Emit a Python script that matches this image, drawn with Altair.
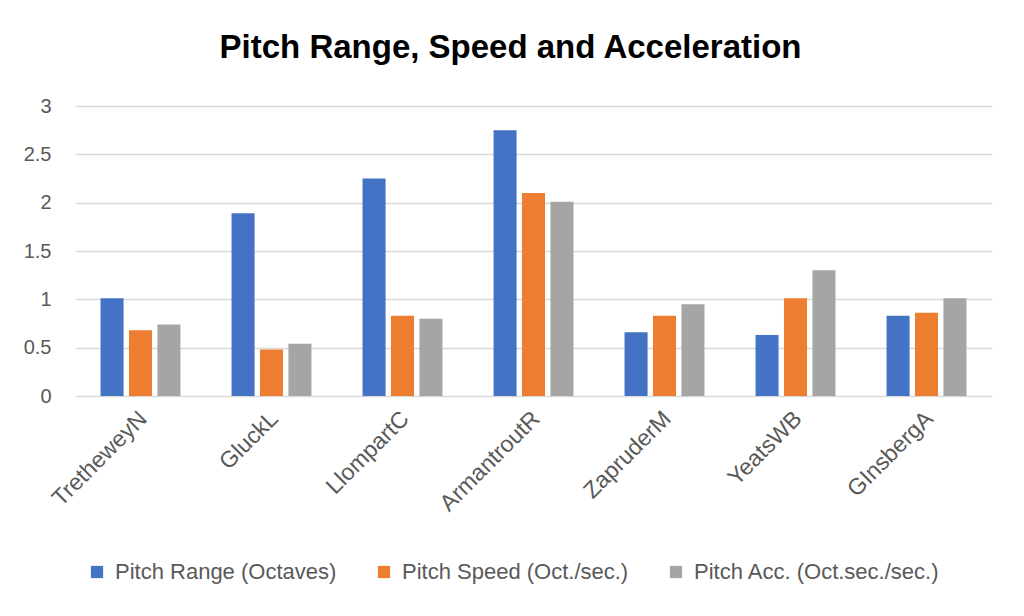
import altair as alt
import pandas as pd

poets = ["TretheweyN", "GluckL", "LlompartC", "ArmantroutR", "ZapruderM", "YeatsWB", "GInsbergA"]
series = ["Pitch Range (Octaves)", "Pitch Speed (Oct./sec.)", "Pitch Acc. (Oct.sec./sec.)"]
pitch_range = [1.01, 1.89, 2.25, 2.75, 0.66, 0.63, 0.83]
pitch_speed = [0.68, 0.48, 0.83, 2.10, 0.83, 1.01, 0.86]
pitch_acc = [0.74, 0.54, 0.80, 2.01, 0.95, 1.30, 1.01]
colors = ["#4472C4", "#ED7D31", "#A5A5A5"]

rows = []
for s, vals in zip(series, [pitch_range, pitch_speed, pitch_acc]):
    for p, v in zip(poets, vals):
        rows.append({"Poet": p, "Series": s, "Value": v})
df = pd.DataFrame(rows)

FONT = "Liberation Sans"

chart = alt.Chart(df).mark_bar().encode(
    x=alt.X("Poet:N", sort=poets, title=None,
            scale=alt.Scale(paddingInner=0.39, paddingOuter=0.195),
            axis=alt.Axis(labelAngle=-45, labelFontSize=23, labelColor="#595959",
                          labelFont=FONT, ticks=False, domain=False, labelPadding=11,
                          labelOffset=-5, grid=False, labelLimit=0)),
    xOffset=alt.XOffset("Series:N", sort=series,
                        scale=alt.Scale(paddingInner=0.19, paddingOuter=0)),
    y=alt.Y("Value:Q", title=None,
            scale=alt.Scale(domain=[0, 3]),
            axis=alt.Axis(values=[0, 0.5, 1, 1.5, 2, 2.5, 3], format="~g",
                          labelFontSize=20,
                          labelColor="#595959", labelFont=FONT, ticks=False,
                          domain=False, labelPadding=24, gridColor="#d9d9d9",
                          gridWidth=1.5)),
    color=alt.Color("Series:N", sort=series,
                    scale=alt.Scale(domain=series, range=colors),
                    legend=alt.Legend(title=None, orient="none", direction="horizontal",
                                      legendX=11, legendY=455, symbolType="square",
                                      symbolSize=150, symbolStrokeWidth=0,
                                      labelFontSize=22, labelColor="#595959",
                                      labelFont=FONT, columnPadding=36, labelOffset=7,
                                      labelLimit=0)),
).properties(
    width=917, height=290,
    padding={"left": 67, "top": 98, "right": 24, "bottom": 212},
    autosize=alt.AutoSizeParams(type="none"),
    title=alt.TitleParams("Pitch Range, Speed and Acceleration", fontSize=33,
                          font=FONT, fontWeight="bold", color="#000000",
                          anchor="middle", offset=31, dx=-23),
).configure(background="white").configure_view(stroke="transparent", strokeWidth=0)

chart.save("out.html", embed_options={"renderer": "svg", "actions": False})
